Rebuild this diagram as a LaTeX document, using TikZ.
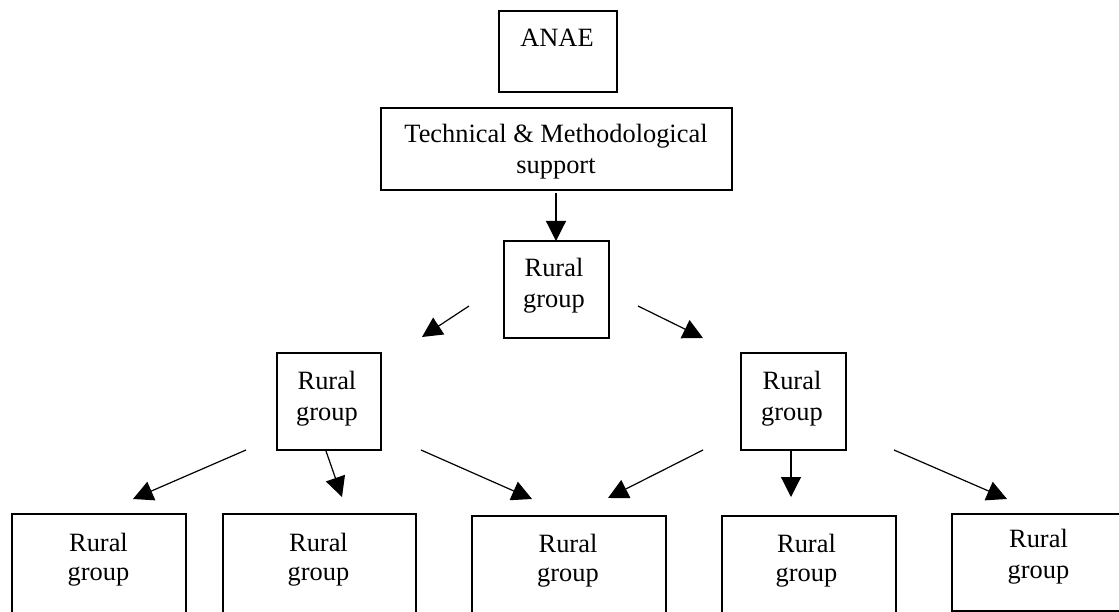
\documentclass[tikz,border=0pt]{standalone}
\usepackage{fontspec}
\setmainfont{Liberation Serif}
\usetikzlibrary{arrows.meta}
\begin{document}
\begin{tikzpicture}[x=1pt,y=-1pt,
  box/.style={draw, line width=1.2pt, inner sep=0pt, outer sep=0pt},
  lbl/.style={anchor=base, inner sep=0pt, font=\fontsize{26.4}{31}\selectfont},
  arr/.style={line width=1.2pt, -{Triangle[length=20pt,width=20pt]}}]
\useasboundingbox (0,0) rectangle (1119,612);
% boxes
\node[box, minimum width=118pt, minimum height=81pt] (anae) at (558,51.5) {};
\node[box, minimum width=351pt, minimum height=82pt] (tech) at (556.5,149) {};
\node[box, minimum width=105pt, minimum height=97pt] (c) at (556.5,289.5) {};
\node[box, minimum width=104pt, minimum height=97pt] (l) at (329,401.5) {};
\node[box, minimum width=105pt, minimum height=97pt] (r) at (793.5,401.5) {};
\node[box, minimum width=174pt, minimum height=101pt] (b1) at (99,564.5) {};
\node[box, minimum width=193pt, minimum height=101pt] (b2) at (319.5,564.5) {};
\node[box, minimum width=194pt, minimum height=99pt] (b3) at (569,565.5) {};
\node[box, minimum width=174pt, minimum height=99pt] (b4) at (809,565.5) {};
\node[box, minimum width=174pt, minimum height=97pt] (b5) at (1039,562.5) {};
% texts
\node[lbl] (anaet) at (557,47) {ANAE};
\node[lbl] (techa) at (556,143) {Technical \& Methodological};
\node[lbl] (techb) at (556,174) {support};
\node[lbl] (cta) at (554,277) {Rural};
\node[lbl] (ctb) at (554,308) {group};
\node[lbl] (lta) at (327,389) {Rural};
\node[lbl] (ltb) at (327,420) {group};
\node[lbl] (rta) at (792,389) {Rural};
\node[lbl] (rtb) at (792,420) {group};
\node[lbl] (b1a) at (98.5,551) {Rural};
\node[lbl] (b1b) at (98.5,580) {group};
\node[lbl] (b2a) at (318.5,551) {Rural};
\node[lbl] (b2b) at (318.5,580) {group};
\node[lbl] (b3a) at (568,552) {Rural};
\node[lbl] (b3b) at (568,581) {group};
\node[lbl] (b4a) at (806.5,552) {Rural};
\node[lbl] (b4b) at (806.5,581) {group};
\node[lbl] (b5a) at (1038.5,547) {Rural};
\node[lbl] (b5b) at (1038.5,578) {group};
% arrow end points
\coordinate (a0s) at (556,193);  \coordinate (a0e) at (556,241);
\coordinate (a1s) at (469,306);  \coordinate (a1e) at (422,337);
\coordinate (a2s) at (638,306);  \coordinate (a2e) at (703,338);
\coordinate (a3s) at (246,450);  \coordinate (a3e) at (133,499);
\coordinate (a4s) at (326,451);  \coordinate (a4e) at (342,497);
\coordinate (a5s) at (421,450);  \coordinate (a5e) at (532,499);
\coordinate (a6s) at (703,450);  \coordinate (a6e) at (608,498);
\coordinate (a7s) at (791,451);  \coordinate (a7e) at (791,497);
\coordinate (a8s) at (894,450);  \coordinate (a8e) at (1007,499);
\draw[arr] (a0s) -- (a0e);
\draw[arr] (a1s) -- (a1e);
\draw[arr] (a2s) -- (a2e);
\draw[arr] (a3s) -- (a3e);
\draw[arr] (a4s) -- (a4e);
\draw[arr] (a5s) -- (a5e);
\draw[arr] (a6s) -- (a6e);
\draw[arr] (a7s) -- (a7e);
\draw[arr] (a8s) -- (a8e);
\end{tikzpicture}
\end{document}
